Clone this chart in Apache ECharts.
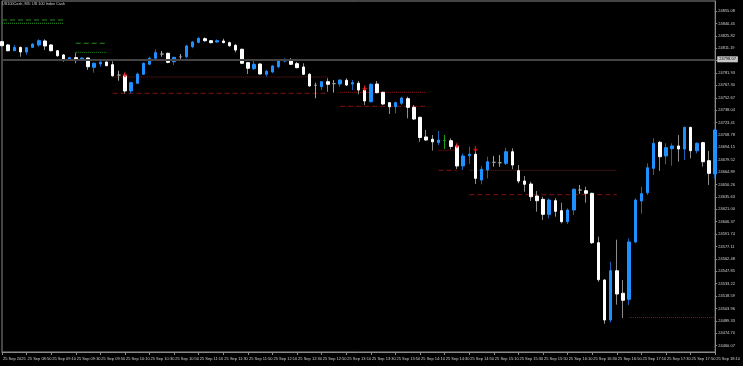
<!DOCTYPE html>
<html><head><meta charset="utf-8">
<script src="https://cdn.jsdelivr.net/npm/echarts@6/dist/echarts.min.js"></script>
<style>html,body{margin:0;padding:0;background:#000}#c{width:743px;height:366px}</style>
</head><body><div id="c"></div>
<script>
// ---- data ----
const title = 'US100Cash, M5: US 100 Index Cash';
// 5-minute candles from 08:30 to 18:10, 25 Sep 2025
const categories = [];
for (let m = 8*60+30; m <= 18*60+10; m += 5) {
  categories.push(String(Math.floor(m/60)).padStart(2,'0') + ':' + String(m%60).padStart(2,'0'));
}
// [open, close, low, high]
const ohlc = [
[24818.9,24814.1,24813.2,24819.7],[24815.0,24808.2,24807.5,24815.8],[24808.2,24812.2,24808.0,24815.0],[24812.2,24806.7,24801.1,24812.9],
[24806.7,24811.8,24803.2,24812.0],[24812.2,24816.1,24812.0,24817.0],[24815.0,24820.0,24812.9,24821.7],[24819.7,24813.8,24809.0,24821.7],
[24815.0,24808.2,24807.5,24815.8],[24808.2,24802.3,24801.1,24808.5],[24803.2,24798.1,24795.2,24804.3],[24797.6,24800.0,24797.4,24801.1],
[24800.0,24798.1,24793.4,24805.9],[24798.1,24799.6,24797.3,24800.4],[24799.6,24789.3,24785.5,24800.0],[24788.6,24793.4,24782.3,24794.1],
[24792.5,24794.9,24789.3,24795.2],[24794.9,24790.5,24790.0,24795.2],[24791.7,24778.7,24777.5,24795.7],[24779.5,24779.5,24772.8,24784.6],
[24778.7,24760.7,24758.0,24781.6],[24760.7,24770.5,24758.0,24771.6],[24769.8,24780.7,24768.9,24782.3],[24780.4,24793.4,24779.5,24794.1],
[24792.2,24799.3,24791.4,24801.1],[24799.3,24805.9,24798.4,24809.9],[24804.3,24804.3,24801.1,24807.9],[24805.2,24794.5,24793.4,24805.9],
[24795.2,24800.4,24791.4,24801.1],[24801.1,24801.1,24797.3,24804.3],[24801.1,24813.8,24799.3,24815.0],[24812.9,24818.5,24811.1,24819.7],
[24818.1,24822.9,24817.0,24824.0],[24822.4,24820.0,24818.9,24824.0],[24820.0,24817.7,24817.0,24820.9],[24818.5,24820.0,24817.7,24821.7],
[24819.7,24817.7,24817.0,24822.4],[24817.7,24814.1,24812.9,24818.9],[24814.6,24809.0,24806.3,24816.1],[24809.9,24793.4,24792.5,24810.6],
[24794.1,24787.5,24780.7,24794.5],[24787.0,24792.2,24785.5,24796.1],[24792.5,24780.7,24780.4,24793.4],[24780.4,24783.9,24777.5,24785.5],
[24783.1,24790.2,24781.6,24791.4],[24789.3,24796.1,24787.5,24797.3],[24796.1,24797.6,24794.5,24799.3],[24797.6,24792.2,24791.4,24799.6],
[24792.9,24788.2,24787.5,24794.9],[24789.0,24780.4,24779.5,24793.4],[24780.4,24766.6,24765.7,24781.6],[24767.4,24767.4,24752.1,24770.5],
[24765.7,24771.6,24761.8,24771.9],[24771.6,24768.6,24759.8,24775.7],[24769.3,24769.3,24758.7,24773.6],[24768.9,24773.6,24765.7,24774.5],
[24773.3,24767.7,24766.6,24775.7],[24768.9,24770.5,24761.8,24773.6],[24769.8,24761.8,24756.8,24772.5],[24761.8,24748.9,24744.1,24765.7],
[24748.0,24768.6,24747.3,24769.8],[24768.9,24758.7,24758.0,24772.5],[24759.1,24745.3,24744.1,24759.8],[24746.9,24742.1,24733.5,24747.5],
[24742.1,24746.9,24734.3,24748.0],[24746.2,24752.4,24744.1,24753.9],[24751.6,24741.4,24728.4,24753.9],[24741.4,24727.6,24726.4,24744.1],
[24729.6,24705.8,24700.8,24730.3],[24706.4,24702.8,24701.7,24714.6],[24703.7,24700.7,24690.4,24708.7],[24699.9,24702.8,24696.9,24713.5],
[24702.2,24702.2,24692.2,24708.7],[24702.0,24695.2,24691.9,24704.8],[24695.4,24672.2,24668.6,24698.1],[24672.2,24684.0,24667.4,24687.1],
[24684.3,24686.0,24674.5,24695.2],[24686.0,24657.6,24650.9,24691.0],[24655.6,24668.3,24650.6,24672.2],[24667.4,24677.2,24657.6,24683.1],
[24676.5,24676.5,24671.3,24684.0],[24676.0,24676.0,24671.3,24685.1],[24675.3,24689.0,24673.3,24693.8],[24689.0,24673.3,24668.3,24693.0],
[24666.6,24654.4,24651.7,24673.3],[24654.4,24650.6,24641.8,24660.3],[24650.9,24635.9,24630.8,24653.6],[24636.7,24631.2,24618.2,24642.6],
[24632.8,24615.1,24608.4,24635.9],[24615.1,24632.0,24610.4,24634.0],[24631.2,24618.7,24612.3,24634.0],[24619.4,24606.4,24604.5,24628.8],
[24606.4,24620.2,24603.7,24622.2],[24620.2,24644.7,24614.3,24645.8],[24643.8,24643.8,24639.1,24649.7],[24643.0,24639.9,24628.8,24647.7],
[24639.9,24581.6,24580.1,24640.6],[24581.6,24538.0,24535.6,24588.7],[24537.6,24490.4,24485.9,24538.4],[24490.4,24548.6,24487.5,24559.2],
[24548.5,24521.1,24508.5,24585.2],[24521.9,24513.7,24492.8,24537.6],[24514.8,24582.5,24508.1,24586.8],[24582.5,24632.0,24580.9,24634.0],
[24630.8,24639.5,24615.9,24647.7],[24640.6,24670.1,24637.9,24675.3],[24669.4,24698.9,24661.5,24704.8],[24700.1,24683.1,24666.3,24701.7],
[24684.0,24693.8,24674.2,24698.9],[24692.6,24695.8,24672.5,24698.9],[24695.8,24692.2,24677.2,24708.7],[24692.2,24717.8,24679.2,24718.5],
[24717.8,24690.2,24681.2,24718.2],[24690.2,24698.9,24687.1,24700.1],[24699.7,24677.2,24671.3,24700.8],[24678.4,24663.5,24649.7,24689.9],
[24662.7,24714.6,24657.6,24716.0]
];
const greenDojiIndex = 72;
const xTickLabels = ['25 Sep 2025','25 Sep 08:50','25 Sep 09:10','25 Sep 09:30','25 Sep 09:50','25 Sep 10:10','25 Sep 10:30','25 Sep 10:50',
'25 Sep 11:10','25 Sep 11:30','25 Sep 11:50','25 Sep 12:10','25 Sep 12:30','25 Sep 12:50','25 Sep 13:10','25 Sep 13:30','25 Sep 13:50',
'25 Sep 14:10','25 Sep 14:30','25 Sep 14:50','25 Sep 15:10','25 Sep 15:30','25 Sep 15:50','25 Sep 16:10','25 Sep 16:30','25 Sep 16:50',
'25 Sep 17:10','25 Sep 17:30','25 Sep 17:50','25 Sep 18:10'];
const yTickLabels = ['24460.07','24474.70','24489.33','24503.96','24518.59','24533.22','24547.85','24562.48','24577.11','24591.74',
'24606.37','24621.00','24635.63','24650.26','24664.89','24679.52','24694.15','24708.78','24723.41','24738.04','24752.67','24767.30',
'24781.93','24796.56','24811.19','24825.82','24840.45','24855.08'];
const hLinePrice = 24798.07;
// level lines: [fromIndex, toIndex, price]
const greenDashed = [[0,10,24844.5],[12,17,24817.0]];
const greenDotted = [[0,10,24840.6],[12,17,24806.3]];
const redDotted = [[18,53,24777.2],[55,69,24759.1],[71,74,24690.7],[76,100,24667.1],[102,116,24493.4]];
const redDashed = [[18,53,24758.0],[55,69,24742.6],[71,74,24667.1],[76,100,24638.2]];
// sell arrows: [index, price]
const arrows = [[20,24779.9],[59,24763.9],[74,24696.3],[77,24692.2]];

// ---- chart ----
const FONT = 'Liberation Sans';
const AX = '#8a8a8a';
const yMin = 24452.63, yMax = 24866.88;

const wickData = ohlc.map((d,i) => i === greenDojiIndex ?
  {value:d, itemStyle:{borderColorDoji:'#1aa01a', colorDoji:'#1aa01a'}} : d);
const bodyData = ohlc.map((d,i) => {
  const v = [d[0], d[1], Math.min(d[0],d[1]), Math.max(d[0],d[1])];
  return i === greenDojiIndex ? {value:v, itemStyle:{borderColorDoji:'#1aa01a', colorDoji:'#1aa01a'}} : v;
});

function levelSeries(list, color, type) {
  return list.map(s => ({
    type:'line', data:[[s[0], s[2]], [s[1], s[2]]], symbol:'none', silent:true, z:1,
    lineStyle:{color:color, width:1, type:type}, animation:false
  }));
}

const chart = echarts.init(document.getElementById('c'), null, {renderer:'canvas'});
chart.setOption({
  backgroundColor:'#000',
  animation:false,
  title:{text:title, left:2, top:2, padding:0, textStyle:{color:'#d0d0d0', fontSize:3.8, fontWeight:'normal', fontFamily:FONT}},
  grid:{left:1, right:23, top:1, bottom:14, show:true, borderColor:AX, borderWidth:1, backgroundColor:'#000'},
  xAxis:{
    type:'category', data:categories, boundaryGap:false,
    axisLine:{show:true, lineStyle:{color:AX}},
    axisTick:{show:true, interval:3, length:3, lineStyle:{color:AX}},
    axisLabel:{interval:3, color:'#d0d0d0', fontSize:4, fontFamily:FONT, align:'left', margin:5, padding:[0,0,0,1],
      formatter:(v,idx)=> xTickLabels[Math.round(idx/4)] || ''},
    splitLine:{show:false}
  },
  yAxis:{
    type:'value', position:'right', min:yMin, max:yMax, scale:true,
    axisLine:{show:true, lineStyle:{color:AX}},
    axisTick:{show:true, length:2, lineStyle:{color:AX}, customValues:yTickLabels.map(Number)},
    axisLabel:{color:'#d0d0d0', fontSize:4, fontFamily:FONT, margin:3, customValues:yTickLabels.map(Number),
      formatter:v=>v.toFixed(2)},
    splitLine:{show:false}
  },
  series:[
    ...levelSeries(greenDashed,'#1f8a1f',[5,3]),
    ...levelSeries(greenDotted,'#1f9a1f',[1,1]),
    ...levelSeries(redDotted,'#9a1010',[1,1]),
    ...levelSeries(redDashed,'#8a1010',[5,3]),
    {
      type:'candlestick', data:wickData, barWidth:1, z:3, silent:true,
      itemStyle:{color:'#1a60b8', color0:'#8c8c8c', borderColor:'#1a60b8', borderColor0:'#8c8c8c',
        borderColorDoji:'#a0a0a0', borderWidth:1},
      markLine:{
        symbol:'none', silent:true, animation:false,
        lineStyle:{color:'#444444', width:2, type:'solid'},
        label:{show:true, position:'end', distance:2, formatter:hLinePrice.toFixed(2), color:'#000',
          backgroundColor:'#c8c8c8', fontSize:4, fontFamily:FONT, padding:[1,2,1,2]},
        data:[{yAxis:hLinePrice}]
      }
    },
    {
      type:'candlestick', data:bodyData, barWidth:3, z:4, silent:true,
      itemStyle:{color:'#1e90ff', color0:'#ffffff', borderColor:'#1e90ff', borderColor0:'#ffffff',
        borderColorDoji:'#a0a0a0', borderWidth:1}
    },
    {
      type:'scatter', data:arrows, z:6, silent:true,
      symbol:'path://M3,0 L5,0 L5,4 L8,4 L4,9 L0,4 L3,4 Z', symbolSize:[5,6],
      itemStyle:{color:'#ff1010'}
    }
  ]
});
</script></body></html>
